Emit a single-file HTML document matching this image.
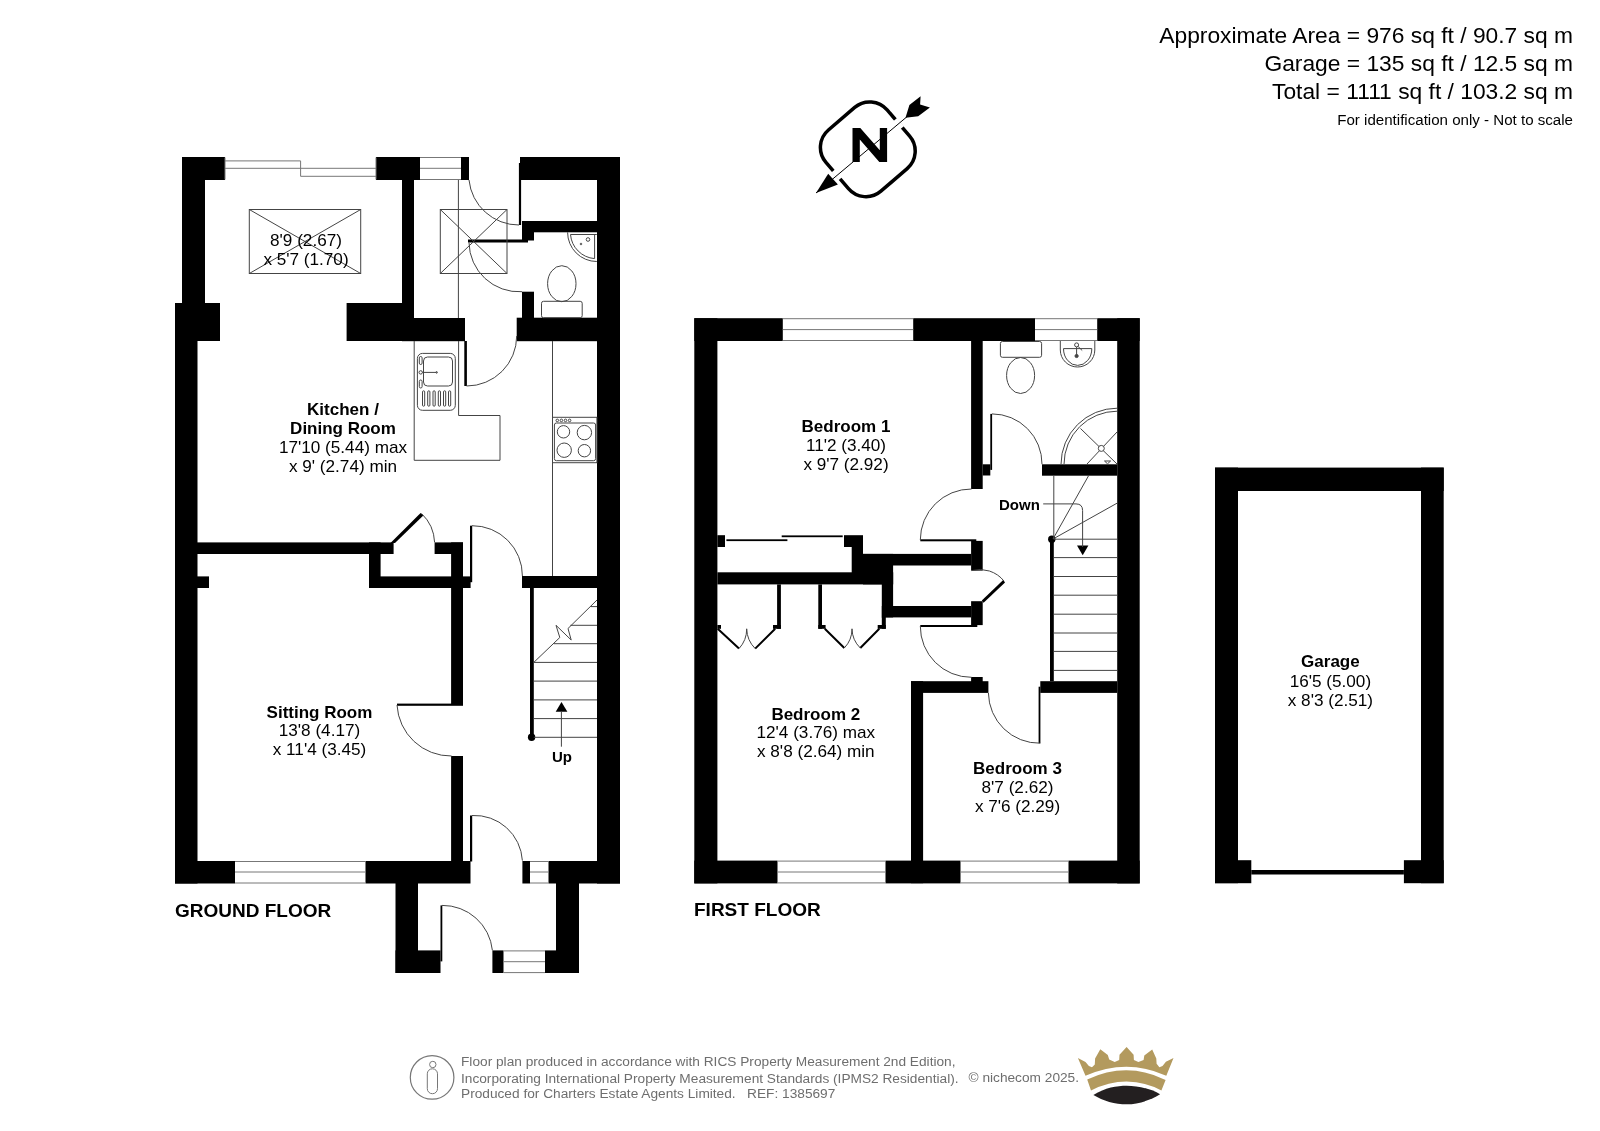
<!DOCTYPE html>
<html><head><meta charset="utf-8">
<style>
html,body{margin:0;padding:0;background:#fff;}
body{width:1600px;height:1131px;overflow:hidden;}
svg{display:block;will-change:transform;}
text{font-family:"Liberation Sans",sans-serif;}
.w{fill:#000;}
.t{fill:none;stroke:#444;stroke-width:1;}
.g{fill:none;stroke:#777;stroke-width:1;}
.lb{font-weight:bold;font-size:17px;fill:#000;}
.ld{font-size:17.15px;fill:#000;}
</style></head>
<body>
<svg width="1600" height="1131" viewBox="0 0 1600 1131">
<!-- GROUND FLOOR WALLS -->
<g class="w">
<rect x="182" y="157" width="23" height="146"/>
<rect x="182" y="157" width="43" height="23"/>
<rect x="376" y="157" width="44" height="23"/>
<rect x="402" y="157" width="12" height="161"/>
<rect x="461" y="157" width="8" height="23"/>
<rect x="520" y="157" width="100" height="23"/>
<rect x="518.9" y="163" width="2.2" height="62"/>
<rect x="597" y="157" width="23" height="726.5"/>
<rect x="522" y="221" width="75" height="11.3"/>
<rect x="522" y="232" width="12" height="8.5"/>
<rect x="468" y="239.5" width="60" height="3"/>
<rect x="522" y="291.7" width="12" height="26.5"/>
<rect x="516.7" y="317.7" width="103.3" height="23.5"/>
<rect x="175" y="303" width="45" height="38"/>
<rect x="346.6" y="303" width="56" height="38"/>
<rect x="402" y="318" width="63" height="23.2"/>
<rect x="464.3" y="341" width="2.6" height="45"/>
<rect x="175" y="303" width="22.5" height="580.5"/>
<rect x="197" y="542.4" width="196.6" height="11.6"/>
<rect x="197" y="576.4" width="12" height="11.6"/>
<rect x="369" y="542.4" width="11.6" height="45.6"/>
<rect x="369" y="576.4" width="101.6" height="11.6"/>
<rect x="434.6" y="542.4" width="28.4" height="11.6"/>
<rect x="451.1" y="542.4" width="11.9" height="161.7"/>
<rect x="470" y="525.7" width="2.2" height="56.5"/>
<rect x="522" y="576" width="75" height="12"/>
<rect x="530" y="588" width="3.8" height="149.3"/>
<circle cx="531.6" cy="737.3" r="3.7"/>
<rect x="397" y="703.6" width="66" height="2.2"/>
<rect x="451.1" y="756" width="11.9" height="105"/>
<rect x="470" y="815.5" width="2.2" height="46"/>
<rect x="175" y="861" width="60" height="22.5"/>
<rect x="365.5" y="861" width="105" height="22.5"/>
<rect x="522.4" y="861" width="7.6" height="22.5"/>
<rect x="548.5" y="861" width="71.5" height="22.5"/>
<rect x="395.5" y="883" width="22.5" height="90"/>
<rect x="395.5" y="950.4" width="45" height="22.6"/>
<rect x="440.5" y="905.4" width="1.8" height="56"/>
<rect x="492.4" y="950.4" width="11.1" height="22.6"/>
<rect x="545" y="950.4" width="34" height="22.6"/>
<rect x="556" y="883" width="23" height="90"/>
<polygon points="390.5,543 420.6,513 423.3,515.5 395,543"/>
<polygon points="555.7,711.7 567.4,711.7 561.5,702"/>
</g>
<!-- GROUND thin lines -->
<g class="g">
<path d="M225,160.9 H300.6 V176.3 H376 M225,168.3 H376 M225,157.5 V179.5 M376,157.5 V179.5"/>
<path d="M420,157.5 H461 M420,168.3 H461 M420,179.5 H461"/>
<path d="M235,861.5 H365.5 M235,872 H365.5 M235,883 H365.5"/>
<path d="M530,861.5 H548.5 M530,872 H548.5 M530,883 H548.5"/>
<path d="M503.5,950.9 H545 M503.5,961.7 H545 M503.5,972.6 H545"/>
</g>
<g class="t">
<path d="M469,180 A50,50 0 0 0 519,225"/>
<path d="M469,242.6 A50,50 0 0 0 522,291.7"/>
<path d="M466.6,386 A50,50 0 0 0 516.7,336"/>
<path d="M421.6,513.6 A42,42 0 0 1 434.6,542.4"/>
<path d="M471.9,525.7 A50,50 0 0 1 522.4,576"/>
<path d="M397,705 A54,54 0 0 0 451.6,756"/>
<path d="M472,815.5 A48,48 0 0 1 522.4,860.6"/>
<path d="M442,905.4 A50,50 0 0 1 492.4,950.4"/>
<rect x="249.3" y="209.5" width="111.4" height="64"/>
<path d="M249.3,209.5 L360.7,273.5 M360.7,209.5 L249.3,273.5"/>
<rect x="440.3" y="209.5" width="66.7" height="64"/>
<path d="M440.3,209.5 L507,273.5 M507,209.5 L440.3,273.5"/>
<path d="M458.4,180 V318"/>
<path d="M414.2,341 V460.3 H500 V415.5 H458.6 V341"/>
<path d="M552.5,341 V576"/>
<rect x="417.4" y="353.4" width="37.9" height="56.9" rx="5"/>
<rect x="423.5" y="357" width="29" height="29" rx="4"/>
<path d="M422.4,372.4 H436.6"/><circle cx="420.7" cy="372.4" r="1.7"/><circle cx="436.6" cy="372.4" r="0.8"/>
<rect x="419.3" y="356.5" width="2.8" height="8" rx="1.4"/><rect x="419.3" y="380" width="2.8" height="8" rx="1.4"/><rect x="422.5" y="390.8" width="2.2" height="15.4" rx="1.1"/><rect x="427.7" y="390.8" width="2.2" height="15.4" rx="1.1"/><rect x="433.0" y="390.8" width="2.2" height="15.4" rx="1.1"/><rect x="438.3" y="390.8" width="2.2" height="15.4" rx="1.1"/><rect x="443.5" y="390.8" width="2.2" height="15.4" rx="1.1"/><rect x="448.5" y="390.8" width="2.2" height="15.4" rx="1.1"/>
<rect x="552.5" y="417.3" width="44.4" height="45.4"/>
<rect x="554.4" y="423" width="41.2" height="37.7" rx="2"/>
<circle cx="563.5" cy="431.8" r="6.2"/>
<circle cx="584.4" cy="432.6" r="7.2"/>
<circle cx="564.2" cy="450.2" r="7.2"/>
<circle cx="584.4" cy="450.7" r="6.2"/>
<circle cx="557.3" cy="420.4" r="1.3"/>
<circle cx="561.4" cy="420.4" r="1.3"/>
<circle cx="565.5" cy="420.4" r="1.3"/>
<circle cx="569.6" cy="420.4" r="1.3"/>
<path d="M533.8,606.6 M590.7,606.6 H597 M570.4,625.3 H597 M553.8,643.7 H597 M533.8,662.4 H597 M533.8,681.1 H597 M533.8,699.9 H597 M533.8,718.6 H597 M533.8,737.3 H597"/>
<path d="M597,600 L568,628.5 L571.2,640 L556,625.3 L559.8,637.5 L533.8,662.4"/>
<path d="M561.4,746.7 V711"/>
<rect x="541.5" y="301.3" width="40.7" height="16.4" rx="2"/>
<ellipse cx="561.8" cy="283.7" rx="14.2" ry="18"/>
<path d="M567.6,232.3 A29.2,29.2 0 0 0 596.8,261.5 M570.5,234.5 A26.3,26.3 0 0 0 594.6,258.6 M570.5,234.5 H596.8 M594.6,234.5 V258.6"/><circle cx="588" cy="239.5" r="1.8"/><circle cx="581" cy="244" r="0.8"/>
</g>
<!-- FIRST FLOOR -->
<g class="w">
<rect x="694.3" y="318.2" width="88.5" height="22.8"/>
<rect x="913.2" y="318.2" width="121.8" height="22.8"/>
<rect x="1097.2" y="318.2" width="42.5" height="22.8"/>
<rect x="694.3" y="318.2" width="23.1" height="565.2"/>
<rect x="1117.2" y="318.2" width="22.5" height="565.2"/>
<rect x="694.3" y="860.6" width="83.2" height="22.8"/>
<rect x="885.5" y="860.6" width="75" height="22.8"/>
<rect x="1068.5" y="860.6" width="71.2" height="22.8"/>
<rect x="971.1" y="341" width="11.6" height="148"/>
<rect x="982.7" y="464.3" width="7.6" height="11.2"/>
<rect x="990.3" y="413.9" width="1.8" height="56"/>
<rect x="1042" y="464.3" width="75.2" height="11.4"/>
<rect x="920.3" y="539.3" width="56" height="2"/>
<rect x="971.1" y="540.9" width="11.6" height="29.7"/>
<rect x="863" y="553.9" width="108.1" height="11.6"/>
<rect x="863" y="553.9" width="30.1" height="30.5"/>
<rect x="717.4" y="572.3" width="175.7" height="12.1"/>
<rect x="881.8" y="572.3" width="11.3" height="45.1"/>
<rect x="881.8" y="606" width="89.3" height="11.4"/>
<rect x="881.8" y="617" width="4" height="11.8"/>
<polygon points="1003.2,580 1005,582.4 983.6,602.8 981.8,600.4"/>
<rect x="971.1" y="601.2" width="11.6" height="23.9"/>
<rect x="920.3" y="625" width="57" height="2"/>
<rect x="971.1" y="677" width="11.6" height="5"/>
<rect x="911" y="681.2" width="77.4" height="11.7"/>
<rect x="1040.3" y="681.2" width="76.9" height="11.7"/>
<rect x="911" y="681.2" width="12.1" height="202"/>
<rect x="1038.6" y="686.7" width="1.8" height="56.5"/>
<rect x="1050" y="539.2" width="3.8" height="142"/>
<circle cx="1051.8" cy="539.2" r="3.7"/>
<rect x="717.4" y="535.2" width="7.6" height="11.8"/>
<rect x="726.4" y="539.3" width="61" height="1.8"/>
<rect x="781.7" y="535.4" width="61" height="1.8"/>
<rect x="844" y="535.2" width="19" height="11.8"/>
<rect x="851.7" y="547" width="11.3" height="26"/>
<rect x="777.1" y="584.4" width="3.8" height="44.4"/>
<rect x="717.4" y="625" width="3.6" height="3.8"/>
<rect x="773" y="625" width="7.9" height="3.8"/>
<rect x="818.3" y="584.4" width="3.7" height="44.4"/>
<rect x="818.3" y="625" width="7.3" height="3.8"/>
<rect x="877.7" y="625" width="8.1" height="3.8"/>
<polygon points="1077,545.4 1088.4,545.4 1082.7,555.2"/>
<rect x="1251.3" y="870" width="152.6" height="4.5"/>
<rect x="1215" y="467.6" width="23" height="415.6"/>
<rect x="1215" y="467.6" width="228.7" height="23.4"/>
<rect x="1421" y="467.6" width="22.7" height="415.6"/>
<rect x="1215" y="860.2" width="36.3" height="23"/>
<rect x="1403.9" y="860.2" width="39.8" height="23"/>
</g>
<g fill="none" stroke="#000" stroke-width="2">
<path d="M717.7,628.8 L739,648.6 M755.2,648.6 L775.2,628.8 M824.8,628.8 L844.3,648 M860.3,648 L879.3,628.8"/>
</g>
<g class="g">
<path d="M782.8,318.7 H913.2 M782.8,329.6 H913.2 M782.8,340.5 H913.2"/>
<path d="M1035,318.7 H1097.2 M1035,329.6 H1097.2 M1035,340.5 H1097.2"/>
<path d="M777.5,861.1 H885.5 M777.5,872 H885.5 M777.5,882.9 H885.5"/>
<path d="M960.5,861.1 H1068.5 M960.5,872 H1068.5 M960.5,882.9 H1068.5"/>
</g>
<g class="t">
<path d="M992,413.9 A50,50 0 0 1 1042,464.3"/>
<path d="M920.3,540 A51,51 0 0 1 971.6,489"/>
<path d="M971.6,570.6 A31,31 0 0 1 1004.1,581.2"/>
<path d="M920.3,626 A51,51 0 0 0 971.6,677.3"/>
<path d="M988.4,692.9 A51,51 0 0 0 1040.3,743.2"/>
<path d="M1053.8,475.5 V539"/>
<path d="M1053,539 L1088.7,475.5 M1053,539 L1117.2,503.1"/>
<path d="M1053.8,557.6 H1117.2 M1053.8,576.5 H1117.2 M1053.8,595.2 H1117.2 M1053.8,614.2 H1117.2 M1053.8,633 H1117.2 M1053.8,651.4 H1117.2 M1053.8,670.4 H1117.2 M1053.8,539.2 H1117.2"/>
<path d="M1043.2,503.9 H1076 Q1082.6,503.9 1082.6,510.5 V547"/>
<path d="M739,648.6 A29,29 0 0 0 746.7,628.8 A29,29 0 0 0 755.2,648.6 M844.3,648 A27.5,27.5 0 0 0 852,628.8 A27.5,27.5 0 0 0 860.3,648"/>
<rect x="1000.4" y="341.5" width="41.2" height="15.8" rx="2"/>
<ellipse cx="1020.6" cy="375.5" rx="14" ry="18"/>
<path d="M1060.3,341 V350 A17.25,17 0 0 0 1094.8,350 V341"/>
<path d="M1063.5,348.6 H1091.8 A14.15,16.8 0 0 1 1063.5,348.6 Z"/>
<path d="M1076.6,346.5 V356 M1077.8,346.2 L1082.2,350.5"/><circle cx="1076.6" cy="344.9" r="2" fill="#fff"/><circle cx="1076.6" cy="356" r="1.6" fill="#444"/><path d="M1104.5,461 H1110.6 L1107.5,463.8 Z"/>
<path d="M1061,464.3 A56.2,56.2 0 0 1 1117.2,408.2 M1064,464.3 A53.2,53.2 0 0 1 1117.2,411.2"/>
<path d="M1080.5,428.5 L1117,464 M1087,464 L1117,432"/>
<circle cx="1101.3" cy="448.4" r="3" fill="#fff"/>
</g>
<g text-anchor="middle">
<text class="lb" x="846" y="432.1">Bedroom 1</text>
<text class="ld" x="846" y="450.9">11'2 (3.40)</text>
<text class="ld" x="846" y="469.8">x 9'7 (2.92)</text>
<text class="lb" x="815.8" y="719.5">Bedroom 2</text>
<text class="ld" x="815.8" y="738.2">12'4 (3.76) max</text>
<text class="ld" x="815.8" y="757.3">x 8'8 (2.64) min</text>
<text class="lb" x="1017.5" y="774">Bedroom 3</text>
<text class="ld" x="1017.5" y="792.7">8'7 (2.62)</text>
<text class="ld" x="1017.5" y="812">x 7'6 (2.29)</text>
<text class="lb" x="1330.4" y="667.1">Garage</text>
<text class="ld" x="1330.4" y="686.6">16'5 (5.00)</text>
<text class="ld" x="1330.4" y="706.1">x 8'3 (2.51)</text>
</g>
<text x="999" y="509.6" style="font-weight:bold;font-size:15px;fill:#000">Down</text>
<text x="694" y="916.4" style="font-weight:bold;font-size:19px;fill:#000">FIRST FLOOR</text>

<!-- COMPASS -->
<g transform="translate(867.8,149.3) rotate(-40.6)">
<rect x="-40.3" y="-40.3" width="80.6" height="80.6" rx="23" fill="none" stroke="#000" stroke-width="3.5"/>
</g>
<g stroke="#fff" stroke-width="10.6">
<path d="M894.3,127.3 L900.5,122.1 M835.1,176.2 L841.3,171"/>
</g>
<polygon points="852.5,127.9 860.3,127.9 879.8,150.3 879.8,127.9 887.1,127.9 887.1,162 879.3,162 859.8,139.5 859.8,162 852.5,162"/>
<path d="M816,193 L912,112.5" stroke="#000" stroke-width="1" fill="none"/>
<polygon points="816,193.1 828.2,173.7 837.9,184.4"/>
<polygon points="905.5,117.7 909.4,105.1 920.6,96.3 920.1,104.6 929.9,107.5 918.2,116.3"/>
<!-- HEADER -->
<g text-anchor="end" style="fill:#000">
<text x="1573" y="43.3" style="font-size:22.8px">Approximate Area = 976 sq ft / 90.7 sq m</text>
<text x="1573" y="71.2" style="font-size:22.8px">Garage = 135 sq ft / 12.5 sq m</text>
<text x="1573" y="99.2" style="font-size:22.8px">Total = 1111 sq ft / 103.2 sq m</text>
<text x="1573" y="125" style="font-size:15.1px">For identification only - Not to scale</text>
</g>
<!-- FOOTER -->
<circle cx="432.1" cy="1077.4" r="21.8" fill="none" stroke="#777" stroke-width="1.2"/>
<circle cx="432.8" cy="1064.5" r="3.2" fill="none" stroke="#777" stroke-width="1"/>
<rect x="427.3" y="1068.8" width="10.2" height="24.9" rx="5" fill="none" stroke="#777" stroke-width="1"/>
<g style="fill:#6e6e6e;font-size:13.7px">
<text x="461" y="1065.9">Floor plan produced in accordance with RICS Property Measurement 2nd Edition,</text>
<text x="461" y="1082.5">Incorporating International Property Measurement Standards (IPMS2 Residential).</text>
<text x="461" y="1098.4">Produced for Charters Estate Agents Limited.&#160;&#160;&#160;REF: 1385697</text>
<text x="968.5" y="1082">&#169; nichecom 2025.</text>
</g>
<path fill="#b39a5e" d="M1077.9,1058 L1085.5,1062 L1088.9,1066.1 L1092,1067.2 L1094.8,1064.4 L1095.1,1058.6 L1100.3,1049.3 L1107.8,1055.1 L1109.2,1059.6 L1114.7,1061.9 L1119.2,1059.9 L1119.5,1054.8 L1126.6,1046.9 L1133.6,1054.8 L1133.9,1059.9 L1138.4,1061.9 L1143.6,1059.9 L1144.3,1055.5 L1152.2,1049.6 L1156.3,1058.6 L1156.6,1063.7 L1159.4,1067.2 L1162.5,1066.1 L1165.9,1061.7 L1173.5,1058 L1166.3,1075.8 Q1126.7,1057.8 1085.5,1075.8 Z"/>
<path fill="#b39a5e" d="M1087.2,1079.5 Q1126.7,1060.9 1165.6,1079.9 L1161.4,1090.5 Q1126.7,1072.7 1091,1090.5 Z"/>
<path fill="#231f20" d="M1093.4,1095 C1105,1087.5 1117,1085.7 1126.7,1085.7 C1137,1085.7 1149,1088 1160.1,1094.3 C1150,1100.5 1138,1104.3 1126.7,1104.3 C1115,1104.3 1103,1101 1093.4,1095 Z"/>
<!-- TEXT -->
<g text-anchor="middle">
<text class="ld" x="306" y="246.2">8'9 (2.67)</text>
<text class="ld" x="306" y="264.8">x 5'7 (1.70)</text>
<text class="lb" x="343" y="414.6">Kitchen /</text>
<text class="lb" x="343" y="433.6">Dining Room</text>
<text class="ld" x="343" y="452.6">17'10 (5.44) max</text>
<text class="ld" x="343" y="471.6">x 9' (2.74) min</text>
<text class="lb" x="319.5" y="717.7">Sitting Room</text>
<text class="ld" x="319.5" y="736.4">13'8 (4.17)</text>
<text class="ld" x="319.5" y="755.2">x 11'4 (3.45)</text>
<text x="562" y="762.2" style="font-weight:bold;font-size:15px;fill:#000">Up</text>
</g>
<text x="175" y="917.4" style="font-weight:bold;font-size:19px;fill:#000">GROUND FLOOR</text>
</svg>
</body></html>
